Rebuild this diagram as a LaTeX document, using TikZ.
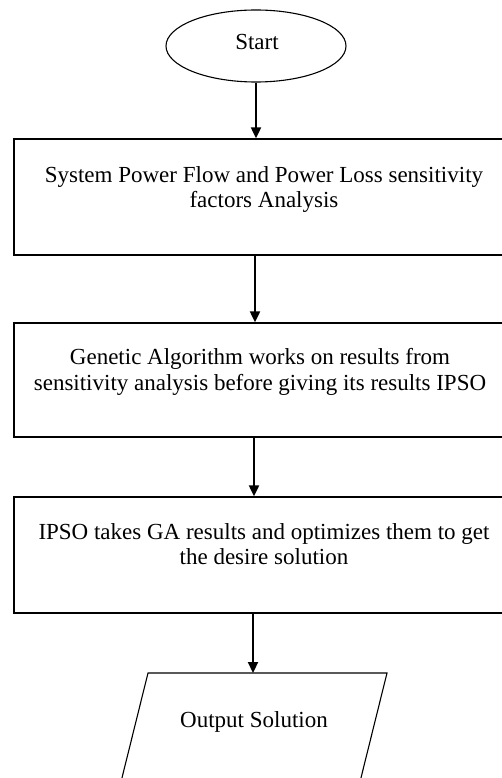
\documentclass[tikz,border=0pt]{standalone}
\usepackage{fontspec}
\setmainfont{Liberation Serif}
\usetikzlibrary{arrows.meta,shapes.geometric,calc}
\begin{document}
\begin{tikzpicture}[x=1pt,y=1pt,
  txt/.style={font=\fontsize{23}{25.5}\selectfont, align=center, inner sep=0pt},
  stepbox/.style={draw, line width=1.4pt, minimum width=498pt, minimum height=116pt, inner sep=0pt},
  flow/.style={line width=2.2pt, -{Triangle[length=11pt,width=10pt]}}]
\useasboundingbox (0,0) rectangle (502,-778);
\clip (0,0) rectangle (502,-778);
\fill[white] (0,0) rectangle (502,-778);
% start
\node[draw, ellipse, line width=1.1pt, minimum width=180pt, minimum height=72pt, inner sep=0pt] (start) at (256,-46) {};
\node[txt, anchor=base] (starttxt) at (257,-50) {Start};
% boxes
\node[stepbox] (b1) at (263,-197) {};
\node[txt, anchor=north] (t1) at ($(b1.north)+(1,-28)$) {System Power Flow and Power Loss sensitivity\\factors Analysis};
\node[stepbox, minimum height=114pt] (b2) at (263,-380) {};
\node[txt, anchor=north] (t2) at ($(b2.north)+(-3,-26)$) {Genetic Algorithm works on results from\\sensitivity analysis before giving its results IPSO};
\node[stepbox] (b3) at (263,-555) {};
\node[txt, anchor=north] (t3) at ($(b3.north)+(1,-27)$) {IPSO takes GA results and optimizes them to get\\the desire solution};
% output parallelogram
\coordinate (otl) at (148,-673);
\coordinate (otr) at (387,-673);
\coordinate (obl) at (114,-810);
\coordinate (obr) at (353,-810);
\draw[line width=1.1pt] (obl) -- (otl) -- (otr) -- (obr);
\coordinate (otop) at (253,-673);
\node[txt, anchor=base] (otxt) at (254,-727) {Output Solution};
% connectors
\draw[flow] (start.south) -- (start.south |- b1.north);
\draw[flow] ([xshift=-1pt]start.south |- b1.south) -- ([xshift=-1pt]start.south |- b2.north);
\draw[flow] ([xshift=-2pt]start.south |- b2.south) -- ([xshift=-2pt]start.south |- b3.north);
\draw[flow] (otop |- b3.south) -- (otop);
\end{tikzpicture}
\end{document}
